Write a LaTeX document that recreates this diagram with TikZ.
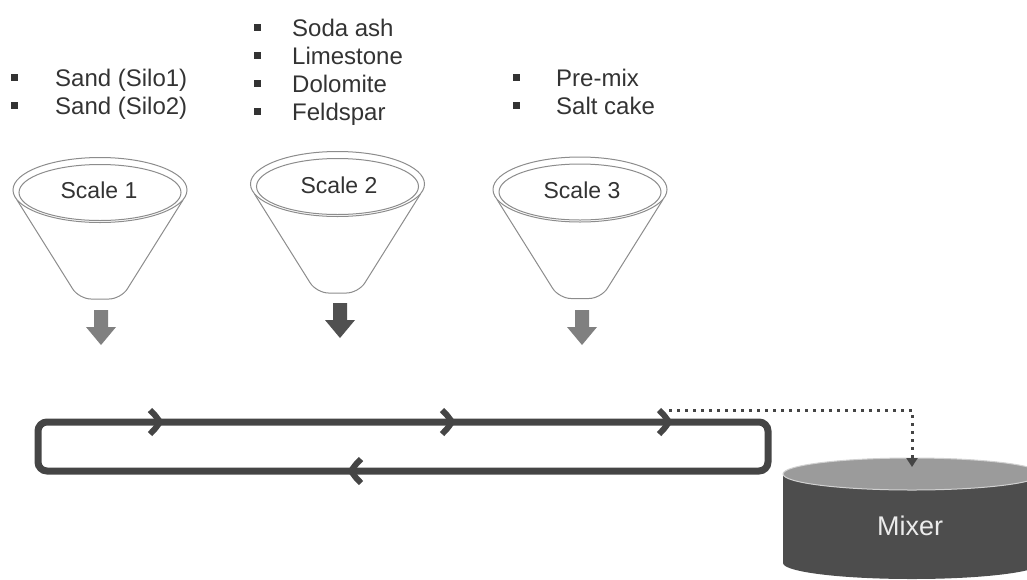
\documentclass[tikz,border=0pt]{standalone}
\usepackage{fontspec}
\setmainfont{Liberation Sans}
\usetikzlibrary{arrows.meta}
\definecolor{conv}{HTML}{454545}
\definecolor{funline}{HTML}{8C8C8C}
\definecolor{txt}{HTML}{333333}
\definecolor{arrlight}{HTML}{808080}
\definecolor{arrdark}{HTML}{505050}
\definecolor{mixbody}{HTML}{4D4D4D}
\definecolor{mixtop}{HTML}{9B9B9B}
\tikzset{
  itemtext/.style={anchor=base west, inner sep=0pt, text=txt, font=\fontsize{24}{28}\selectfont},
  bul/.style={rectangle, fill=txt, minimum size=7pt, inner sep=0pt},
  scaletext/.style={anchor=base, inner sep=0pt, text=txt, font=\fontsize{23}{27}\selectfont},
  conveyor/.style={draw=conv, line width=7pt, rounded corners=9pt},
  dotline/.style={draw=conv, line width=3pt, dash pattern=on 3pt off 5pt, -{Triangle[width=11pt,length=9pt]}},
  pics/funnel/.style={code={
    \draw[funline, line width=1pt, fill=white, rounded corners=12pt]
      (-83,10) -- (-21,109) -- (21,109) -- (83,10);
    \draw[funline, line width=1pt, fill=white] (0,0) ellipse [x radius=87, y radius=32.5];
    \draw[funline, line width=1pt] (0,2.5) ellipse [x radius=81, y radius=28];
  }},
  pics/blockarrow/.style={code={
    \fill[#1] (-7,0) -- (7,0) -- (7,17) -- (15,17) -- (0,35) -- (-15,17) -- (-7,17) -- cycle;
  }},
  pics/chev/.style={code={
    \draw[conv, line width=6pt, line join=miter, miter limit=4]
      (-13,-12) .. controls (-8,-7) .. (-3,0) .. controls (-8,7) .. (-13,12);
  }}
}
\begin{document}
\begin{tikzpicture}[x=1pt,y=-1pt]
\path[use as bounding box] (0,0) rectangle (1027,579);
\clip (0,0) rectangle (1027,579);

% lists
\node[bul] (b11) at (14,77) {};
\node[bul] (b12) at (14,105) {};
\node[itemtext] (s1) at (55,86) {Sand (Silo1)};
\node[itemtext] (s2) at (55,114) {Sand (Silo2)};

\node[bul] (b21) at (257,27) {};
\node[bul] (b22) at (257,55) {};
\node[bul] (b23) at (257,83) {};
\node[bul] (b24) at (257,111) {};
\node[itemtext] (l1) at (292,36) {Soda ash};
\node[itemtext] (l2) at (292,64) {Limestone};
\node[itemtext] (l3) at (292,92) {Dolomite};
\node[itemtext] (l4) at (292,120) {Feldspar};

\node[bul] (b31) at (516,77) {};
\node[bul] (b32) at (516,105) {};
\node[itemtext] (p1) at (556,86) {Pre-mix};
\node[itemtext] (p2) at (556,114) {Salt cake};

% funnels
\pic at (100,190) {funnel};
\pic at (337.5,184) {funnel};
\pic at (580,189.5) {funnel};
\node[scaletext] (sc1) at (99,198) {Scale 1};
\node[scaletext] (sc2) at (339,193) {Scale 2};
\node[scaletext] (sc3) at (582,198) {Scale 3};

% block arrows
\pic at (101,310) {blockarrow=arrlight};
\pic at (340,303) {blockarrow=arrdark};
\pic at (582,310) {blockarrow=arrlight};

% conveyor loop
\draw[conveyor] (38,422) rectangle (768,471);
\pic at (163,422) {chev};
\pic at (455,422) {chev};
\pic at (672,422) {chev};
\pic[rotate=180] at (348,471) {chev};

% mixer
\fill[mixbody] (783,474) -- (783,563) arc[start angle=180, end angle=0, x radius=129, y radius=16] -- (1041,474) -- cycle;
\draw[fill=mixtop, draw=white!82!black, line width=1pt] (912,474) ellipse [x radius=129, y radius=16];
\node[anchor=base, inner sep=0pt, text=white!92!black, font=\fontsize{27}{32}\selectfont] (mixer) at (910,535) {Mixer};

% dotted connector
\coordinate (dstart) at (669,410);
\coordinate (mixin) at (912,467);
\draw[dotline] (dstart) -| (mixin);
\end{tikzpicture}
\end{document}
